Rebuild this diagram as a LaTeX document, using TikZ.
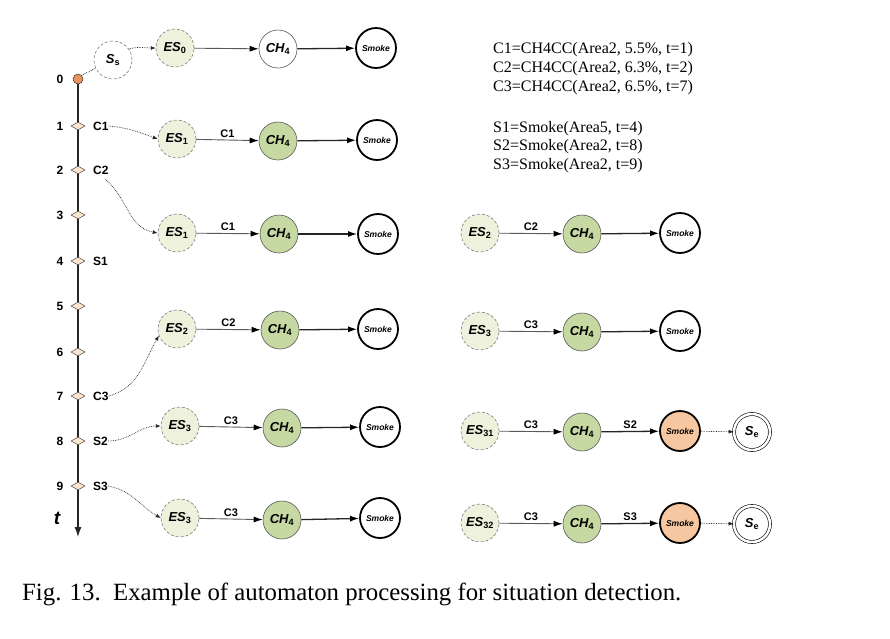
\documentclass[tikz,border=0pt]{standalone}
\usepackage{fontspec}
\setmainfont{Liberation Serif}
\setsansfont{Liberation Sans}
\usetikzlibrary{shapes.geometric,arrows.meta}
\definecolor{esfill}{HTML}{EEF2DD}
\definecolor{chfill}{HTML}{C6D9A2}
\definecolor{smfill}{HTML}{F6C7A0}
\definecolor{dmfill}{HTML}{FCE5CC}
\definecolor{dotfill}{HTML}{E8935A}
\newcommand\mysub[1]{\textsubscript{\upshape #1}}
\tikzset{
  lbl/.style={font=\sffamily\bfseries\itshape\fontsize{13}{13}\selectfont},
  esn/.style={circle,minimum size=38pt,inner sep=0pt,fill=esfill,draw=gray!80!black,densely dashed,line width=0.5pt,lbl},
  chn/.style={circle,minimum size=38pt,inner sep=0pt,fill=chfill,draw=gray!70!black,line width=0.6pt,lbl},
  smn/.style={circle,minimum size=40pt,inner sep=0pt,draw=black,line width=1.8pt,fill=white,font=\sffamily\bfseries\itshape\fontsize{8.5}{8.5}\selectfont},
  sen/.style={circle,minimum size=36pt,inner sep=0pt,draw=black,double,double distance=2.5pt,line width=0.6pt,lbl},
  tra/.style={-{Latex[length=9pt,width=6pt,color=black]},draw=gray!70!black,line width=0.9pt},
  trb/.style={-{Latex[length=9pt,width=6pt,color=black]},draw=black!85,line width=1.3pt},
  dta/.style={densely dotted,draw=gray!30!black,line width=0.7pt,-{Latex[length=5pt,width=4pt]}},
  dtl/.style={densely dotted,draw=gray!30!black,line width=0.7pt},
  elab/.style={font=\sffamily\bfseries\fontsize{11}{11}\selectfont,above,inner sep=2pt},
  tnum/.style={font=\sffamily\bfseries\fontsize{12}{12}\selectfont,inner sep=0pt},
  tev/.style={font=\sffamily\bfseries\fontsize{12}{12}\selectfont,inner sep=0pt,anchor=west},
  dmd/.style={diamond,minimum width=14pt,minimum height=8pt,inner sep=0pt,fill=dmfill,draw=gray!60!black,line width=0.5pt},
  deftxt/.style={font=\fontsize{16}{16}\selectfont,inner sep=0pt,anchor=base west}
}
\begin{document}
\begin{tikzpicture}[x=1pt,y=-1pt]
\useasboundingbox[fill=white] (0,0) rectangle (890,638);
% timeline
\node[circle,minimum size=10pt,inner sep=0pt,fill=dotfill,draw=gray!40!black,line width=0.5pt] (t0) at (78,79) {};
\coordinate (tend) at (78,537);
\draw[line width=1.3pt,draw=gray!30!black,-{Latex[length=10pt,width=7pt]}] (t0) -- (tend);
\node[tnum] (n0) at (60,79) {0};
\foreach \i/\y in {1/126,2/170,3/215,4/261,5/306,6/352,7/396,8/441,9/486}{
  \node[dmd] (d\i) at (78,\y) {};
  \node[tnum] (n\i) at (60,\y) {\i};
}
\node[font=\sffamily\bfseries\itshape\fontsize{19}{19}\selectfont,inner sep=0pt] (tl) at (57,518) {t};
\node[tev] (lc1) at (93,126) {C1};
\node[tev] (lc2) at (93,170) {C2};
\node[tev] (ls1) at (93,261) {S1};
\node[tev] (lc3) at (93,396) {C3};
\node[tev] (ls2) at (93,441) {S2};
\node[tev] (ls3) at (93,486) {S3};
\coordinate (c2s) at (105,179);
% row 0
\node[circle,minimum size=38pt,inner sep=0pt,fill=white,draw=gray!80!black,densely dashed,line width=0.5pt,lbl] (ss) at (113,60) {S\mysub{s}};
\node[esn] (a0) at (175,48) {ES\mysub{0}};
\node[chn,fill=white] (b0) at (278,49) {CH\mysub{4}};
\node[smn] (c0) at (376,48) {Smoke};
\draw[tra] (a0) -- (b0);
\draw[trb] (b0) -- (c0);
\draw[dtl] (t0.45) -- (ss.205);
\draw[dta] (ss.35) to[out=15,in=180] (a0.west);
% row 1
\node[esn] (a1) at (177,139) {ES\mysub{1}};
\node[chn] (b1) at (278,141) {CH\mysub{4}};
\node[smn] (c1) at (377,140) {Smoke};
\draw[tra] (a1) -- node[elab] {C1} (b1);
\draw[trb] (b1) -- (c1);
\draw[dta] (lc1.east) to[out=-5,in=160] (a1.west);
% row 2
\node[esn] (a2) at (177,233) {ES\mysub{1}};
\node[chn] (b2) at (279,234) {CH\mysub{4}};
\node[smn] (c2) at (378,234) {Smoke};
\draw[tra] (a2) -- node[elab] {C1} (b2);
\draw[trb] (b2) -- (c2);
\draw[dta] (c2s) to[out=-40,in=170] (a2.west);
\node[esn] (p2) at (480,233) {ES\mysub{2}};
\node[chn] (q2) at (582,234) {CH\mysub{4}};
\node[smn] (r2) at (680,233) {Smoke};
\draw[tra] (p2) -- node[elab] {C2} (q2);
\draw[trb] (q2) -- (r2);
% row 3
\node[esn] (a3) at (177,329) {ES\mysub{2}};
\node[chn] (b3) at (280,330) {CH\mysub{4}};
\node[smn] (c3) at (378,329) {Smoke};
\draw[tra] (a3) -- node[elab] {C2} (b3);
\draw[trb] (b3) -- (c3);
\draw[dta] (lc3.east) to[out=15,in=-120] (a3.200);
\node[esn] (p3) at (480,331) {ES\mysub{3}};
\node[chn] (q3) at (582,332) {CH\mysub{4}};
\node[smn] (r3) at (680,331) {Smoke};
\draw[tra] (p3) -- node[elab] {C3} (q3);
\draw[trb] (q3) -- (r3);
% row 4
\node[esn] (a4) at (180,426) {ES\mysub{3}};
\node[chn] (b4) at (282,428) {CH\mysub{4}};
\node[smn] (c4) at (380,427) {Smoke};
\draw[tra] (a4) -- node[elab] {C3} (b4);
\draw[trb] (b4) -- (c4);
\draw[dta] (ls2.east) to[out=0,in=180] (a4.west);
\node[esn] (p4) at (480,431) {ES\mysub{31}};
\node[chn] (q4) at (582,432) {CH\mysub{4}};
\node[smn,fill=smfill] (r4) at (680,431) {Smoke};
\node[sen] (s4) at (752,432) {S\mysub{e}};
\draw[tra] (p4) -- node[elab] {C3} (q4);
\draw[trb] (q4) -- node[elab] {S2} (r4);
\draw[dta] (r4) -- (s4);
% row 5
\node[esn] (a5) at (180,518) {ES\mysub{3}};
\node[chn] (b5) at (282,520) {CH\mysub{4}};
\node[smn] (c5) at (380,518) {Smoke};
\draw[tra] (a5) -- node[elab] {C3} (b5);
\draw[trb] (b5) -- (c5);
\draw[dta] (ls3.east) to[out=-10,in=150] (a5.west);
\node[esn] (p5) at (480,523) {ES\mysub{32}};
\node[chn] (q5) at (582,524) {CH\mysub{4}};
\node[smn,fill=smfill] (r5) at (680,523) {Smoke};
\node[sen] (s5) at (752,524) {S\mysub{e}};
\draw[tra] (p5) -- node[elab] {C3} (q5);
\draw[trb] (q5) -- node[elab] {S3} (r5);
\draw[dta] (r5) -- (s5);
% definitions
\node[deftxt] (x1) at (493,53) {C1=CH4CC(Area2, 5.5\%, t=1)};
\node[deftxt] (x2) at (493,72) {C2=CH4CC(Area2, 6.3\%, t=2)};
\node[deftxt] (x3) at (493,91) {C3=CH4CC(Area2, 6.5\%, t=7)};
\node[deftxt] (x4) at (493,132) {S1=Smoke(Area5, t=4)};
\node[deftxt] (x5) at (493,150) {S2=Smoke(Area2, t=8)};
\node[deftxt] (x6) at (493,169) {S3=Smoke(Area2, t=9)};
% caption
\node[font=\fontsize{24.8}{24.8}\selectfont,inner sep=0pt,anchor=base west] (cap) at (22,600) {Fig. 13.\ \ Example of automaton processing for situation detection.};
\end{tikzpicture}
\end{document}
